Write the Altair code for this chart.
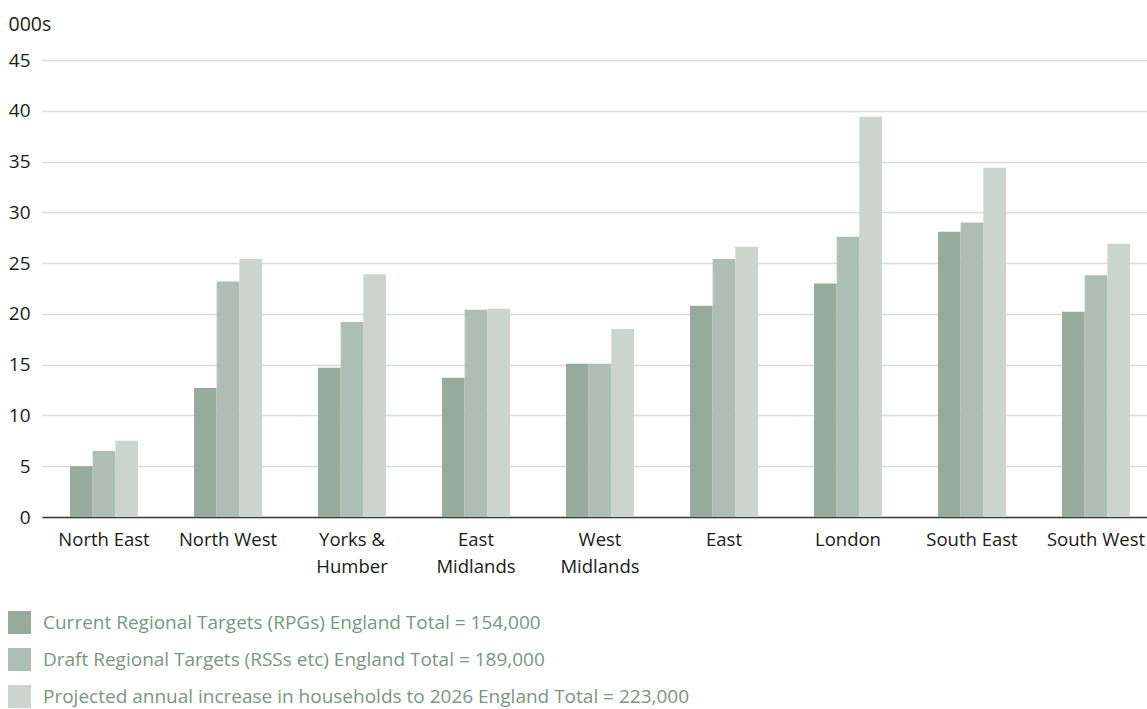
import altair as alt
import pandas as pd

# Regions along the x axis ("\n" marks a line break in the tick label)
regions = [
    "North East", "North West", "Yorks &\nHumber", "East\nMidlands",
    "West\nMidlands", "East", "London", "South East", "South West",
]

# Series names as shown in the key
series = [
    "Current Regional Targets (RPGs) England Total = 154,000",
    "Draft Regional Targets (RSSs etc) England Total = 189,000",
    "Projected annual increase in households to 2026  England Total = 223,000",
]

# Annual dwellings, thousands
current = [5.0, 12.7, 14.7, 13.7, 15.1, 20.8, 23.0, 28.1, 20.2]
draft = [6.5, 23.2, 19.2, 20.4, 15.1, 25.4, 27.6, 29.0, 23.8]
projected = [7.5, 25.4, 23.9, 20.5, 18.5, 26.6, 39.4, 34.4, 26.9]

colors = ["#97aa9e", "#afbeb4", "#cbd5cd"]

rows = []
for name, values in zip(series, [current, draft, projected]):
    for region, v in zip(regions, values):
        rows.append({"region": region, "series": name, "value": v})
df = pd.DataFrame(rows)

FONT = "Open Sans"

chart = (
    alt.Chart(df)
    .mark_bar()
    .encode(
        x=alt.X(
            "region:N",
            sort=regions,
            scale=alt.Scale(range=[0, 1116], paddingInner=0.452, paddingOuter=0.226),
            axis=alt.Axis(
                title=None,
                labelAngle=0,
                labelExpr="split(datum.label, '\\n')",
                labelFont=FONT,
                labelFontSize=18.5,
                labelColor="#1a1a1a",
                labelLineHeight=27,
                labelPadding=13,
                ticks=False,
                domainColor="#3c3c3c",
                domainWidth=1.5,
                labelLimit=0,
            ),
        ),
        xOffset=alt.XOffset("series:N", sort=series),
        y=alt.Y(
            "value:Q",
            scale=alt.Scale(domain=[0, 45], nice=False),
            axis=alt.Axis(
                values=list(range(0, 50, 5)),
                title="000s",
                titleAngle=0,
                titleAlign="left",
                titleBaseline="alphabetic",
                titleX=-34,
                titleY=-30,
                titleFont=FONT,
                titleFontSize=19.5,
                titleFontWeight="normal",
                titleColor="#1a1a1a",
                labelFont=FONT,
                labelFontSize=19,
                labelColor="#1a1a1a",
                labelPadding=12,
                ticks=False,
                domain=False,
                gridColor="#dcdcdc",
                gridWidth=1.5,
            ),
        ),
        color=alt.Color(
            "series:N",
            sort=series,
            scale=alt.Scale(domain=series, range=colors),
            legend=alt.Legend(
                title=None,
                orient="none",
                legendX=-34,
                legendY=551,
                direction="vertical",
                symbolType="square",
                symbolSize=529,
                symbolStrokeWidth=0,
                symbolOpacity=1,
                rowPadding=14,
                labelOffset=12,
                labelFont=FONT,
                labelFontSize=19,
                labelColor="#7b9584",
                labelLimit=0,
                padding=0,
            ),
        ),
    )
    .properties(
        width=1105,
        height=457,
        background="white",
        autosize=alt.AutoSizeParams(type="none"),
        padding={"left": 42, "top": 60, "right": 0, "bottom": 192},
    )
    .configure_view(stroke=None)
)

chart.save("out.html", embed_options={"renderer": "svg", "actions": False})
